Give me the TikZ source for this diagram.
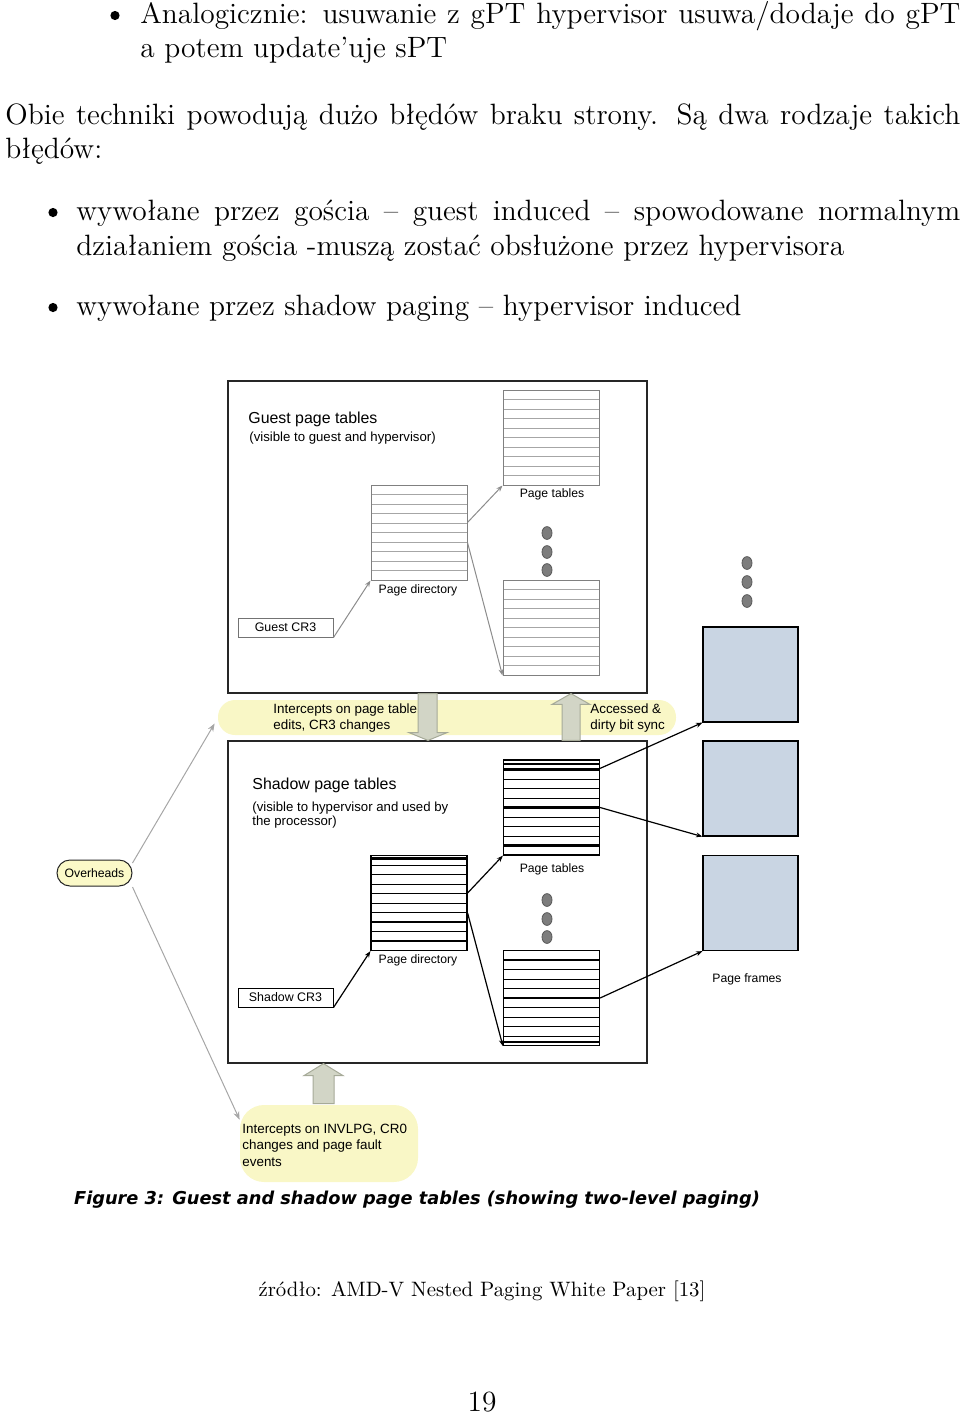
\documentclass[tikz,border=0pt]{standalone}
\usepackage{fontspec}
\usepackage{tikz}
\usetikzlibrary{arrows.meta,calc,positioning}
\newfontfamily\diagfont{Liberation Sans}
\newfontfamily\capfont{DejaVu Sans}
\definecolor{glow}{HTML}{F9F7C6}
\definecolor{pill}{HTML}{FBF9C8}
\definecolor{frameblue}{HTML}{C9D5E3}
\definecolor{shaftgray}{HTML}{D2D5C6}
\definecolor{shaftedge}{HTML}{A6AA98}
\definecolor{dotgray}{HTML}{7D7D7D}

\begin{document}
\begin{tikzpicture}[
  x=0.5pt, y=-0.5pt,
  body/.style={inner sep=0pt, anchor=base west, font=\fontsize{14.7}{17.6}\selectfont},
  bul/.style={inner sep=0pt, anchor=base, font=\fontsize{14.7}{17.6}\selectfont},
  bigbox/.style={rectangle, draw=black!85, line width=0.6pt, minimum width=209.5pt, inner sep=0pt},
  gtbl/.style={rectangle, draw=black!50, line width=0.5pt, minimum width=48pt, minimum height=47.5pt, inner sep=0pt,
    path picture={
      \foreach \k in {1,...,9}
        \draw[black!35, line width=0.4pt] ($(path picture bounding box.north west)!\k/10!(path picture bounding box.south west)$)
          -- ($(path picture bounding box.north east)!\k/10!(path picture bounding box.south east)$);}},
  stbl/.style={rectangle, draw=black, line width=0.6pt, minimum width=48pt, minimum height=47.5pt, inner sep=0pt,
    path picture={
      \foreach \k in {1,...,9}
        \draw[black, line width=0.45pt] ($(path picture bounding box.north west)!\k/10!(path picture bounding box.south west)$)
          -- ($(path picture bounding box.north east)!\k/10!(path picture bounding box.south east)$);
      \foreach \k in {#1}
        \draw[black, line width=1.2pt] ($(path picture bounding box.north west)!\k/10!(path picture bounding box.south west)$)
          -- ($(path picture bounding box.north east)!\k/10!(path picture bounding box.south east)$);}},
  crbox/.style={rectangle, draw=#1, line width=0.5pt, minimum width=47.5pt, minimum height=9.5pt, inner sep=0pt,
    font=\diagfont\fontsize{6.2}{7}\selectfont},
  frm/.style={rectangle, draw=black, fill=frameblue, line width=0.6pt, minimum width=47.5pt, minimum height=47.5pt, inner sep=0pt},
  ttl/.style={inner sep=0pt, anchor=base west, font=\diagfont\fontsize{7.95}{9}\selectfont},
  sub/.style={inner sep=0pt, anchor=west, align=left, font=\diagfont\fontsize{6.6}{7}\selectfont},
  lbl/.style={inner sep=0pt, anchor=base, font=\diagfont\fontsize{6.1}{7}\selectfont},
  note/.style={inner sep=0pt, anchor=west, align=left, font=\diagfont\fontsize{6.7}{8.2}\selectfont},
  garr/.style={-{Stealth[length=3.2pt,width=2.4pt]}, draw=black!45, line width=0.5pt},
  sarr/.style={-{Stealth[length=3.2pt,width=2.4pt]}, draw=black, line width=0.6pt},
  oarr/.style={-{Stealth[length=4pt,width=3pt]}, draw=black!35, line width=0.5pt},
  blk/.style={fill=shaftgray, draw=shaftedge, line width=0.5pt},
  dot/.style={fill=dotgray, draw=black!65, line width=0.4pt},
  itemdot/.style={fill=black},
]
\useasboundingbox (0,0) rectangle (960,1414);

\fill[itemdot] (115,15.5) circle [radius=2.3pt];
\node[body] (t-l1) at (140,23) {\makebox[410pt][s]{Analogicznie: usuwanie z gPT hypervisor usuwa/dodaje do gPT}};
\node[body] (t-l2) at (140,57) {a potem update'uje sPT};
\node[body] (t-l3) at (5,124) {\makebox[477.5pt][s]{Obie techniki powodują dużo błędów braku strony. Są dwa rodzaje takich}};
\node[body] (t-l4) at (5,158) {błędów:};
\fill[itemdot] (53,212.5) circle [radius=2.3pt];
\node[body] (t-l5) at (76,220) {\makebox[442pt][s]{wywołane przez gościa -- guest induced -- spowodowane normalnym}};
\node[body] (t-l6) at (76,255) {działaniem gościa -muszą zostać obsłużone przez hypervisora};
\fill[itemdot] (53,307.5) circle [radius=2.3pt];
\node[body] (t-l7) at (76,315) {wywołane przez shadow paging -- hypervisor induced};

\node[fill=glow, rounded corners=8.5pt, minimum width=229pt, minimum height=17.5pt, inner sep=0pt] (i-band) at (447,717.5) {};
\node[fill=glow, rounded corners=12pt, minimum width=89pt, minimum height=38.5pt, inner sep=0pt] (i-bubble) at (329,1143.5) {};

\node[bigbox, minimum height=156pt] (g-box) at (437.5,537) {};
\node[bigbox, minimum height=161pt] (s-box) at (437.5,902) {};

\node[ttl] (g-ttl) at (248,423) {Guest page tables};
\node[ttl] (g-sub) at (249,441) {\fontsize{6.6}{7}\selectfont (visible to guest and hypervisor)};
\node[gtbl] (g-pt1) at (551,437.5) {};
\node[gtbl] (g-pd) at (419,532.5) {};
\node[gtbl] (g-pt2) at (551,627.5) {};
\node[crbox=black!55] (g-cr3) at (285.5,627.5) {Guest CR3};
\node[lbl] (g-lpt) at (552,497) {Page tables};
\node[lbl] (g-lpd) at (418,593) {Page directory};
\foreach \yy in {533,552,570}
  \draw[dot] (547,\yy) ellipse [x radius=2.5pt, y radius=3.2pt];
\draw[garr] (g-cr3.south east) -- (g-pd.south west);
\draw[garr] ($(g-pd.east)+(0,-10)$) -- (g-pt1.south west);
\draw[garr] ($(g-pd.east)+(0,10)$) -- (g-pt2.south west);

\node[ttl] (s-ttl) at (252,789) {Shadow page tables};
\node[sub] (s-sub) at (252,815) {(visible to hypervisor and used by\\the processor)};
\node[stbl={0.4,1,5,9}] (s-pt1) at (551.5,807.5) {};
\node[stbl={0.3,7,9}] (s-pd) at (419,903) {};
\node[stbl={1,5,9.6}] (s-pt2) at (551.5,998) {};
\node[crbox=black] (s-cr3) at (285.5,997.5) {Shadow CR3};
\node[lbl] (s-lpt) at (552,872) {Page tables};
\node[lbl] (s-lpd) at (418,963) {Page directory};
\foreach \yy in {900,919,937}
  \draw[dot] (547,\yy) ellipse [x radius=2.5pt, y radius=3.2pt];
\draw[sarr] (s-cr3.south east) -- (s-pd.south west);
\draw[sarr] ($(s-pd.east)+(0,-10)$) -- (s-pt1.south west);
\draw[sarr] ($(s-pd.east)+(0,10)$) -- (s-pt2.south west);

\node[frm] (fr-1) at (750.5,674.5) {};
\node[frm] (fr-2) at (750.5,788.5) {};
\node[frm] (fr-3) at (750.5,903) {};
\node[lbl] (fr-lbl) at (747,982) {Page frames};
\foreach \yy in {563,582,601}
  \draw[dot] (747,\yy) ellipse [x radius=2.5pt, y radius=3.2pt];
\draw[sarr] ($(s-pt1.north east)+(0,9)$) -- (fr-1.south west);
\draw[sarr] (s-pt1.east) -- (fr-2.south west);
\draw[sarr] (s-pt2.east) -- (fr-3.south west);

\draw[blk] ($(g-box.south)+(-19.5,0)$) -- ++(0,39) -- ++(-9,0) -- ($(s-box.north)+(-9.5,0)$)
  -- ($(g-box.south)+(9.5,39)$) -- ++(-10,0) -- ($(g-box.south)+(-0.5,0)$) -- cycle;
\draw[blk] ($(s-box.north)+(124.5,0)$) -- ++(0,-36) -- ++(-10,0) -- ($(g-box.south)+(133.5,0)$)
  -- ($(s-box.north)+(152.5,-36)$) -- ++(-10,0) -- ($(s-box.north)+(142.5,0)$) -- cycle;
\draw[blk] ($(s-box.south)+(-124.5,40)$) -- ++(0,-28) -- ++(-9,0) -- ($(s-box.south)+(-114,0)$)
  -- ($(s-box.south)+(-94.5,12)$) -- ++(-9,0) -- ($(s-box.south)+(-103.5,40)$) -- cycle;

\node[note] (i-txt1) at (273,718) {Intercepts on page table\\edits, CR3 changes};
\node[note] (i-txt2) at (590,718) {Accessed \&\\dirty bit sync};
\node[note] (i-txt3) at (242,1145) {Intercepts on INVLPG, CR0\\changes and page fault\\events};

\node[draw=black!85, fill=pill, rounded corners=6.5pt, minimum width=37.5pt, minimum height=13pt, inner sep=0pt,
  line width=0.5pt, font=\diagfont\fontsize{6.1}{7}\selectfont] (o-hd) at (94.5,873) {Overheads};
\draw[oarr] ($(o-hd.east)+(0,-10)$) -- ($(i-band.west)+(-3,6)$);
\draw[oarr] ($(o-hd.east)+(0,14)$) -- ($(i-bubble.north west)+(0,15)$);

\node[inner sep=0pt, anchor=base, font=\capfont\bfseries\itshape\fontsize{8.88}{10}\selectfont] (cap) at (417,1204)
  {Figure 3: Guest and shadow page tables (showing two-level paging)};
\node[inner sep=0pt, anchor=base, font=\fontsize{10.42}{12.5}\selectfont] (t-src) at (482,1296) {źródło: AMD-V Nested Paging White Paper [13]};
\node[bul] (t-pg) at (482,1411) {19};
\end{tikzpicture}
\end{document}
